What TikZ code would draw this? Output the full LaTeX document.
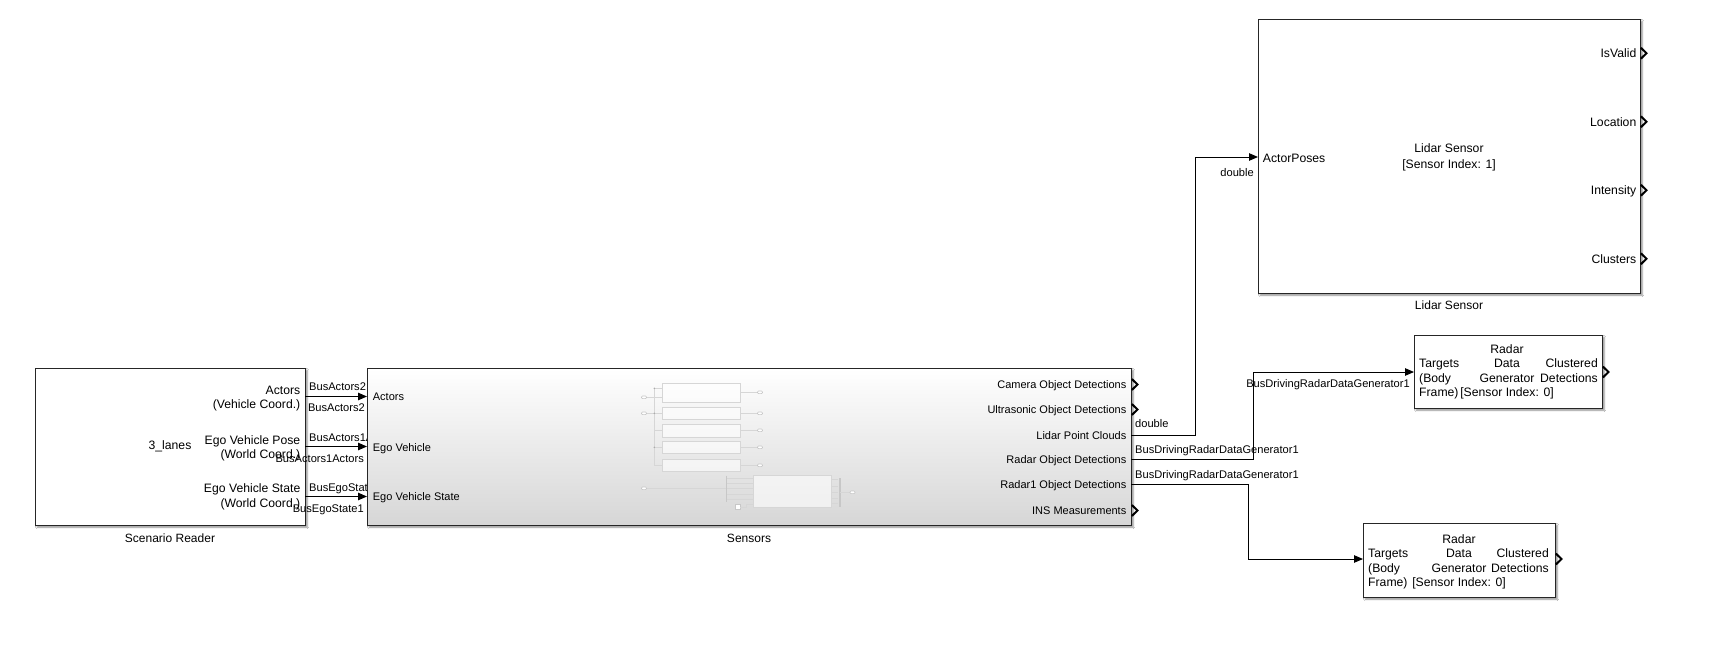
\documentclass[tikz,border=0pt]{standalone}
\usepackage{fontspec}
\setmainfont{Liberation Sans}
\usetikzlibrary{arrows.meta,shadows.blur}

\tikzset{
  block/.style={draw=black!85, line width=1.1pt, fill=white, inner sep=0pt, anchor=north west,
    blur shadow={shadow xshift=1.6pt, shadow yshift=-1.6pt, shadow blur radius=1.6pt,
      shadow blur steps=5, shadow opacity=45}},
  sig/.style={draw=black, line width=1pt, -{Triangle[length=9pt,width=7.5pt]}},
  portmark/.style={draw=black, line width=2pt, line join=miter},
  plab/.style={font=\fontsize{12.2}{14}\selectfont, inner sep=0pt},
  qlab/.style={font=\fontsize{11}{13}\selectfont, inner sep=0pt},
  slab/.style={font=\fontsize{11.1}{13}\selectfont, inner sep=0pt},
  bname/.style={font=\fontsize{12}{14}\selectfont, inner sep=0pt, anchor=base},
  thumb/.style={draw=black!16, line width=0.8pt},
  thumbbox/.style={draw=black!16, line width=0.9pt, fill=white, fill opacity=0.6},
  oval/.style={draw=black!22, line width=0.6pt, rounded corners=1pt, fill=white},
}

\newcommand{\chev}[2]{\draw[portmark] (#1+0.8,#2-5.5) -- (#1+6.5,#2) -- (#1+0.8,#2+5.5);}

\begin{document}
\begin{tikzpicture}[x=1pt,y=-1pt]
\useasboundingbox (0,0) rectangle (1721,666);
\fill[white] (0,0) rectangle (1721,666);

% ---------------- Scenario Reader ----------------
\node[block, minimum width=270pt, minimum height=157pt] (sr) at (35,368) {};
\node[plab, anchor=base east] (sr-a1) at (300.5,394.4) {Actors};
\node[plab, anchor=base east] (sr-a2) at (300.5,408.7) {(Vehicle Coord.)};
\node[plab, anchor=base east] (sr-b1) at (300.5,444.4) {Ego Vehicle Pose};
\node[plab, anchor=base east] (sr-b2) at (300.5,458.7) {(World Coord.)};
\node[plab, anchor=base east] (sr-c1) at (300.5,492.7) {Ego Vehicle State};
\node[plab, anchor=base east] (sr-c2) at (300.5,507.7) {(World Coord.)};
\node[plab, anchor=base] (sr-mid) at (170,449.4) {3\_lanes};
\node[bname] (sr-name) at (170,542.5) {Scenario Reader};

\coordinate (sr-o1) at (305,396.5);
\coordinate (sr-o2) at (305,446.5);
\coordinate (sr-o3) at (305,496.5);

% signal names on the three buses
\node[slab, anchor=base west] (l1a) at (309,390) {BusActors2};
\node[slab, anchor=base east] (l1b) at (365,411) {BusActors2};
\node[slab, anchor=base west] (l2a) at (309,441) {BusActors1Actors};
\node[slab, anchor=base east] (l2b) at (364,462) {BusActors1Actors};
\node[slab, anchor=base west] (l3a) at (309,491) {BusEgoState1};
\node[slab, anchor=base east] (l3b) at (364,512) {BusEgoState1};

% ---------------- Sensors subsystem ----------------
\node[block, minimum width=764pt, minimum height=157pt, top color=white, bottom color=black!16] (sen) at (367,368) {};

\coordinate (sen-i1) at (367,396.5);
\coordinate (sen-i2) at (367,446.5);
\coordinate (sen-i3) at (367,496.5);
\coordinate (sen-o1) at (1131,384.5);
\coordinate (sen-o2) at (1131,409.5);
\coordinate (sen-o3) at (1131,435);
\coordinate (sen-o4) at (1131,459.5);
\coordinate (sen-o5) at (1131,484.5);
\coordinate (sen-o6) at (1131,510.5);

% faint preview of the subsystem contents
\draw[thumb] (654.3,388.3) -- (654.3,465.3);
\draw[thumb] (654.3,388.3) -- (662.3,388.3);
\draw[thumb] (647,397.3) -- (662.3,397.3);
\draw[thumb] (647,413.3) -- (662.3,413.3);
\draw[thumb] (654.3,430.3) -- (662.3,430.3);
\draw[thumb] (654.3,447.3) -- (662.3,447.3);
\draw[thumb] (654.3,465.3) -- (662.3,465.3);
\foreach \yy in {388.3,413.3,447.3} \fill[black!35] (654.3,\yy) circle (0.8);
\draw[thumbbox] (662.3,383.3) rectangle (740.7,402.3);
\draw[thumbbox] (662.3,407.3) rectangle (740.7,419.3);
\draw[thumbbox] (662.3,424.3) rectangle (740.7,437.3);
\draw[thumbbox] (662.3,441.3) rectangle (740.7,453.3);
\draw[thumbbox] (662.3,459.3) rectangle (740.7,471.3);
\foreach \yy in {392.3,413.3,430.3,447.3,465.3} {
  \draw[thumb] (740.7,\yy) -- (757.5,\yy);
  \draw[oval] (757.5,\yy-1.3) rectangle (762.5,\yy+1.3);
}
\foreach \yy in {397.3,413.3,488.3} \draw[oval] (641.5,\yy-1.3) rectangle (646.5,\yy+1.3);
\draw[thumb] (647,488.3) -- (726.7,488.3);
\draw[draw=black!22, line width=1.4pt] (726.7,475.7) -- (726.7,502.3);
\foreach \yy in {478.3,483.3,488.7,494,499.3} \draw[thumb] (726.7,\yy) -- (753.3,\yy);
\draw[thumbbox] (753.3,475.7) rectangle (831.7,507.3);
\draw[draw=black!22, line width=0.6pt, fill=white] (735.7,504.7) rectangle (740,509.3);
\draw[thumb] (740,507) -- (746.5,507) -- (746.5,504.5) -- (753.3,504.5);
\foreach \yy in {479.3,486.7,492.3,498,503.3} \draw[thumb] (831.7,\yy) -- (838,\yy);
\draw[draw=black!22, line width=1.2pt] (840,478.3) -- (840,506.7);
\draw[thumb] (840,492.3) -- (850,492.3);
\draw[oval] (850,491) rectangle (855,493.6);

\node[qlab, anchor=base west] (sen-ia) at (372.7,400.5) {Actors};
\node[qlab, anchor=base west] (sen-ib) at (372.7,451) {Ego Vehicle};
\node[qlab, anchor=base west] (sen-ic) at (372.7,500.7) {Ego Vehicle State};
\node[qlab, anchor=base east] (sen-oa) at (1126.5,388.5) {Camera Object Detections};
\node[qlab, anchor=base east] (sen-ob) at (1126.5,413.5) {Ultrasonic Object Detections};
\node[qlab, anchor=base east] (sen-oc) at (1126.5,439) {Lidar Point Clouds};
\node[qlab, anchor=base east] (sen-od) at (1126.5,463.5) {Radar Object Detections};
\node[qlab, anchor=base east] (sen-oe) at (1126.5,488.5) {Radar1 Object Detections};
\node[qlab, anchor=base east] (sen-of) at (1126.5,514.5) {INS Measurements};
\node[bname] (sen-name) at (749,542.5) {Sensors};
\chev{1131}{384.5}
\chev{1131}{409.5}
\chev{1131}{510.5}

% ---------------- Lidar Sensor ----------------
\node[block, minimum width=382pt, minimum height=274pt] (lid) at (1258,19) {};
\coordinate (lid-i1) at (1258,157);
\node[plab, anchor=base west] (lid-in) at (1262.7,162.7) {ActorPoses};
\node[plab, anchor=base] (lid-t1) at (1449,152.7) {Lidar Sensor};
\node[plab, anchor=base] (lid-t2) at (1449,168.4) {[Sensor Index: 1]};
\node[plab, anchor=base east] (lid-oa) at (1636.5,57.6) {IsValid};
\node[plab, anchor=base east] (lid-ob) at (1636.5,126.2) {Location};
\node[plab, anchor=base east] (lid-oc) at (1636.5,194.6) {Intensity};
\node[plab, anchor=base east] (lid-od) at (1636.5,263.1) {Clusters};
\node[bname] (lid-name) at (1449,309.3) {Lidar Sensor};
\chev{1640}{53.25}
\chev{1640}{121.75}
\chev{1640}{190.25}
\chev{1640}{258.75}

% ---------------- Radar Data Generator (upper) ----------------
\node[block, minimum width=188pt, minimum height=73pt] (rad1) at (1414,335) {};
\coordinate (rad1-i) at (1414,372);
\node[plab, anchor=base] (r1-c1) at (1507,353.4) {Radar};
\node[plab, anchor=base west] (r1-l1) at (1419,367.9) {Targets};
\node[plab, anchor=base] (r1-c2) at (1507,367.9) {Data};
\node[plab, anchor=base east] (r1-r1) at (1598,367.9) {Clustered};
\node[plab, anchor=base west] (r1-l2) at (1419,382.4) {(Body};
\node[plab, anchor=base] (r1-c3) at (1507,382.4) {Generator};
\node[plab, anchor=base east] (r1-r2) at (1598,382.4) {Detections};
\node[plab, anchor=base west] (r1-l3) at (1419,396.9) {Frame)};
\node[plab, anchor=base] (r1-c4) at (1507,396.9) {[Sensor Index: 0]};
\chev{1602}{372}

% ---------------- Radar Data Generator (lower) ----------------
\node[block, minimum width=192pt, minimum height=74pt] (rad2) at (1363,523) {};
\coordinate (rad2-i) at (1363,559);
\node[plab, anchor=base] (r2-c1) at (1459,543.4) {Radar};
\node[plab, anchor=base west] (r2-l1) at (1368,557.9) {Targets};
\node[plab, anchor=base] (r2-c2) at (1459,557.9) {Data};
\node[plab, anchor=base east] (r2-r1) at (1549,557.9) {Clustered};
\node[plab, anchor=base west] (r2-l2) at (1368,572.4) {(Body};
\node[plab, anchor=base] (r2-c3) at (1459,572.4) {Generator};
\node[plab, anchor=base east] (r2-r2) at (1549,572.4) {Detections};
\node[plab, anchor=base west] (r2-l3) at (1368,586.9) {Frame)};
\node[plab, anchor=base] (r2-c4) at (1459,586.9) {[Sensor Index: 0]};
\chev{1555}{559}

% ---------------- connections ----------------
\draw[sig] (sr-o1) -- (sen-i1);
\draw[sig] (sr-o2) -- (sen-i2);
\draw[sig] (sr-o3) -- (sen-i3);
\draw[sig] (sen-o3) -- ++(64,0) |- (lid-i1);
\draw[sig] (sen-o4) -- ++(122,0) |- (rad1-i);
\draw[sig] (sen-o5) -- ++(117,0) |- (rad2-i);

\node[slab, anchor=base west] (w3a) at (1135,427) {double};
\node[slab, anchor=base east] (w3b) at (1254,176) {double};
\node[slab, anchor=base west] (w4a) at (1135,453) {BusDrivingRadarDataGenerator1};
\node[slab, anchor=base east] (w4b) at (1410,387) {BusDrivingRadarDataGenerator1};
\node[slab, anchor=base west] (w5a) at (1135,478) {BusDrivingRadarDataGenerator1};
\end{tikzpicture}
\end{document}
